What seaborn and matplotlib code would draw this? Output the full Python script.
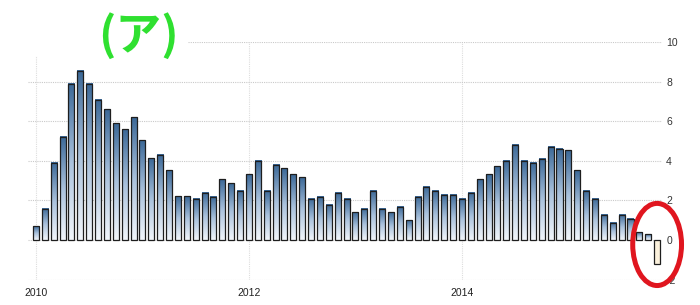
import numpy as np
import pandas as pd
import matplotlib
matplotlib.use("Agg")
import matplotlib.pyplot as plt
import seaborn as sns
from matplotlib.patches import Ellipse, Rectangle
from matplotlib.colors import LinearSegmentedColormap

# ---- data (monthly values) ----
values = [0.70, 1.58, 3.90, 5.21, 7.89, 8.56, 7.89, 7.08, 6.59, 5.90,
          5.60, 6.20, 5.03, 4.12, 4.30, 3.53, 2.20, 2.20, 2.08, 2.38,
          2.18, 3.07, 2.87, 2.48, 3.32, 4.00, 2.48, 3.81, 3.61, 3.32,
          3.16, 2.08, 2.18, 1.78, 2.38, 2.08, 1.39, 1.58, 2.48, 1.58,
          1.39, 1.68, 1.00, 2.18, 2.69, 2.48, 2.28, 2.28, 2.08, 2.38,
          3.07, 3.32, 3.71, 4.01, 4.81, 4.01, 3.91, 4.11, 4.71, 4.61,
          4.52, 3.51, 2.48, 2.08, 1.27, 0.88, 1.27, 1.08, 0.39, 0.29,
          -1.20]
months = [str(p) for p in pd.period_range("2010-01", periods=len(values), freq="M")]
x_tick_labels = ["2010", "2012", "2014"]
y_ticks = [-2, 0, 2, 4, 6, 8, 10]
y_tick_labels = ["-2", "0", "2", "4", "6", "8", "10"]
title_text = "(ア)"

df = pd.DataFrame({"month": months, "value": values})

sns.set_theme(style="white")
plt.rcParams["font.family"] = ["Liberation Sans", "Noto Sans CJK JP", "DejaVu Sans"]

W, H = 700, 305
fig = plt.figure(figsize=(W / 100, H / 100), dpi=100)
ax = fig.add_axes([28 / W, 1 - 279.5 / H, (662 - 28) / W, (279.5 - 42) / H])

sns.barplot(data=df, x="month", y="value", ax=ax, width=0.68, color="#4a76a8",
            saturation=1, edgecolor="#1e1e1e", linewidth=0.9, errorbar=None)

cmap = LinearSegmentedColormap.from_list("g", ["#f2f6fb", "#a9c1dc", "#3b6897"])
grad = np.linspace(0, 1, 128).reshape(-1, 1)
for p, v in zip(ax.patches, values):
    x0, y0 = p.get_x(), p.get_y()
    w, h = p.get_width(), p.get_height()
    if v >= 0:
        p.set_facecolor("none")
        ax.imshow(grad, cmap=cmap, origin="lower", aspect="auto",
                  extent=[x0, x0 + w, y0, y0 + h], zorder=p.get_zorder() - 0.1,
                  interpolation="bilinear")
    else:
        p.set_facecolor("#fbf1dc")
    p.set_zorder(3)

n = len(values)
ax.set_xlim(-0.9, n - 0.45)
ax.set_ylim(-2, 10)

tick_pos = [months.index(f"{y}-01") for y in x_tick_labels]
ax.set_xticks(tick_pos)
ax.set_xticklabels(x_tick_labels)
ax.set_yticks(y_ticks)
ax.set_yticklabels(y_tick_labels)
ax.yaxis.tick_right()
ax.tick_params(axis="y", length=0, pad=3, labelsize=7.5, labelcolor="#333333")
ax.tick_params(axis="x", length=0, pad=6, labelsize=7.5, labelcolor="#222222")
ax.set_xlabel("")
ax.set_ylabel("")
for s in ax.spines.values():
    s.set_visible(False)

ax.set_axisbelow(True)
ax.grid(axis="y", color="#c9c9c9", linestyle=(0, (1, 1)), linewidth=0.8)
ax.grid(axis="x", color="#dddddd", linestyle=(0, (1, 1)), linewidth=0.8)

# white patch behind the title (hides gridline there)
fig.patches.append(Rectangle((26 / W, 1 - 56 / H), (188 - 26) / W, 22 / H,
                             transform=fig.transFigure, facecolor="white",
                             edgecolor="none", zorder=5))
fig.text(138.5 / W, 1 - 36 / H, title_text, ha="center", va="center",
         fontsize=33, fontweight="bold", color="#2fe030",
         family=["Noto Sans CJK JP", "DejaVu Sans"], zorder=6)

# red ellipse around the last bars
last = n - 1
ax.add_patch(Ellipse((last, -0.23), 5.5, 4.15, fill=False, edgecolor="#e0161f",
                     linewidth=3.6, clip_on=False, zorder=10))

fig.savefig("out.png", dpi=100)
